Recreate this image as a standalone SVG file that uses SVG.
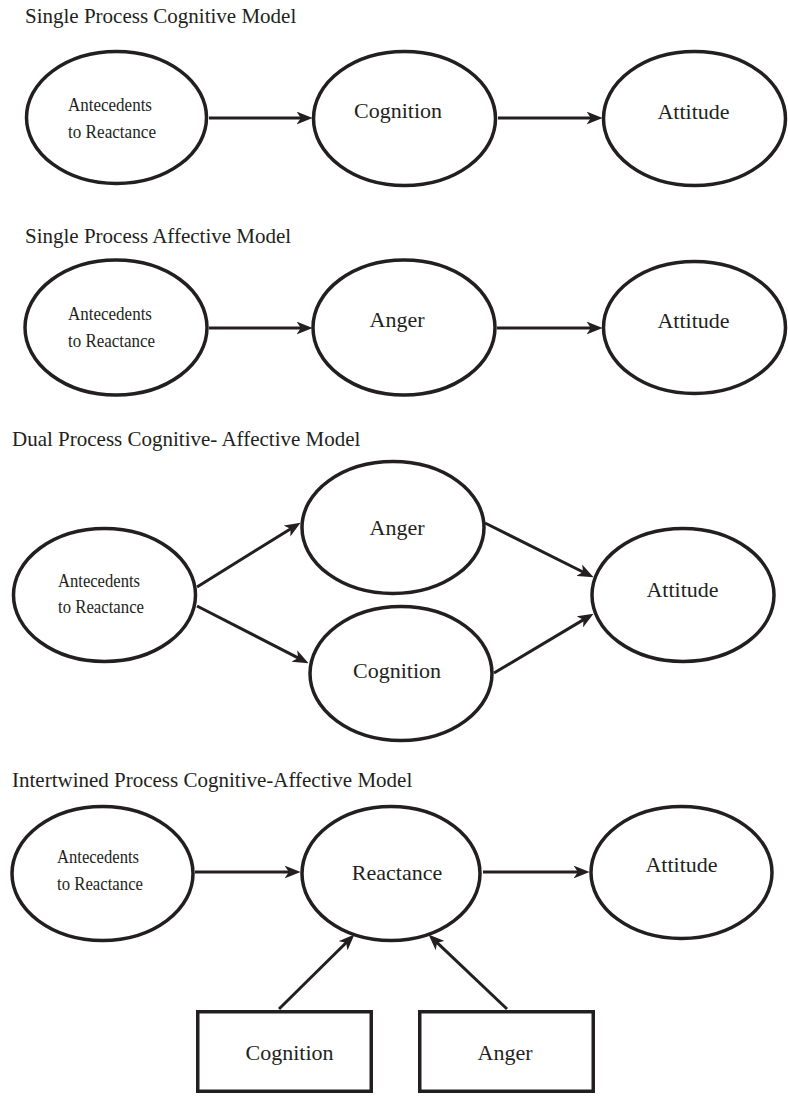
<svg xmlns="http://www.w3.org/2000/svg" width="788" height="1099" viewBox="0 0 788 1099">
<style>
.t{font-family:"Liberation Serif","Times New Roman",serif;fill:#231f20}
.title{font-size:21px}
.lbl{font-size:22px;text-anchor:middle}
.sm{font-size:19.5px}
.n{fill:#fff;stroke:#231f20;stroke-width:3.5}
.c{stroke:#231f20;stroke-width:3;fill:none;marker-end:url(#ah)}
</style>
<defs>
<marker id="ah" markerUnits="userSpaceOnUse" markerWidth="16" markerHeight="13" refX="6" refY="6" orient="auto" viewBox="0 0 15 12">
<path d="M0,0 L15,6 L0,12 L4,6 z" fill="#231f20"/>
</marker>
</defs>
<rect width="788" height="1099" fill="#fff"/>

<text class="t title" x="25" y="23">Single Process Cognitive Model</text>
<text class="t title" x="25" y="243">Single Process Affective Model</text>
<text class="t title" x="12" y="446">Dual Process Cognitive- Affective Model</text>
<text class="t title" x="12" y="787">Intertwined Process Cognitive-Affective Model</text>

<g id="connectors">
<line class="c" x1="209" y1="118" x2="303" y2="118"/>
<line class="c" x1="498" y1="118" x2="593" y2="118"/>
<line class="c" x1="209" y1="328" x2="303" y2="328"/>
<line class="c" x1="497" y1="328" x2="593" y2="328"/>
<line class="c" x1="197" y1="587" x2="292.4" y2="527.7"/>
<line class="c" x1="197" y1="606" x2="300" y2="658.9"/>
<line class="c" x1="485" y1="523" x2="585" y2="573"/>
<line class="c" x1="494" y1="673" x2="585.3" y2="618.6"/>
<line class="c" x1="195" y1="872" x2="291" y2="872"/>
<line class="c" x1="483" y1="872" x2="580" y2="872"/>
<line class="c" x1="279" y1="1009" x2="347.6" y2="941.3"/>
<line class="c" x1="507" y1="1009" x2="435.5" y2="941.2"/>
</g>

<g id="s1-antecedents">
<ellipse class="n" cx="116.5" cy="117.5" rx="90" ry="66"/>
<text class="t sm" x="68" y="111" textLength="84" lengthAdjust="spacingAndGlyphs">Antecedents</text>
<text class="t sm" x="68" y="138" textLength="88" lengthAdjust="spacingAndGlyphs">to Reactance</text>
</g>
<g id="s1-cognition">
<ellipse class="n" cx="404.5" cy="118.5" rx="91" ry="67"/>
<text class="t lbl" x="398" y="118">Cognition</text>
</g>
<g id="s1-attitude">
<ellipse class="n" cx="694.5" cy="118.5" rx="91" ry="67"/>
<text class="t lbl" x="693.5" y="119">Attitude</text>
</g>

<g id="s2-antecedents">
<ellipse class="n" cx="116" cy="327.5" rx="91" ry="67.5"/>
<text class="t sm" x="68" y="320" textLength="84" lengthAdjust="spacingAndGlyphs">Antecedents</text>
<text class="t sm" x="68" y="347" textLength="87" lengthAdjust="spacingAndGlyphs">to Reactance</text>
</g>
<g id="s2-anger">
<ellipse class="n" cx="404" cy="327.5" rx="91" ry="67.5"/>
<text class="t lbl" x="397" y="327">Anger</text>
</g>
<g id="s2-attitude">
<ellipse class="n" cx="694.5" cy="327.5" rx="91" ry="66"/>
<text class="t lbl" x="693.5" y="328">Attitude</text>
</g>

<g id="s3-antecedents">
<ellipse class="n" cx="104.5" cy="595" rx="91" ry="66.5"/>
<text class="t sm" x="58" y="587" textLength="82" lengthAdjust="spacingAndGlyphs">Antecedents</text>
<text class="t sm" x="58" y="613" textLength="86" lengthAdjust="spacingAndGlyphs">to Reactance</text>
</g>
<g id="s3-anger">
<ellipse class="n" cx="393" cy="527.5" rx="91" ry="66"/>
<text class="t lbl" x="397" y="535">Anger</text>
</g>
<g id="s3-cognition">
<ellipse class="n" cx="401" cy="673.5" rx="91" ry="67"/>
<text class="t lbl" x="397" y="678">Cognition</text>
</g>
<g id="s3-attitude">
<ellipse class="n" cx="683" cy="595" rx="91" ry="66.5"/>
<text class="t lbl" x="682.5" y="597">Attitude</text>
</g>

<g id="s4-antecedents">
<ellipse class="n" cx="102.5" cy="873.5" rx="90.5" ry="67"/>
<text class="t sm" x="57" y="863" textLength="82" lengthAdjust="spacingAndGlyphs">Antecedents</text>
<text class="t sm" x="57" y="890" textLength="86" lengthAdjust="spacingAndGlyphs">to Reactance</text>
</g>
<g id="s4-reactance">
<ellipse class="n" cx="391" cy="873.5" rx="89" ry="67"/>
<text class="t lbl" x="397" y="880">Reactance</text>
</g>
<g id="s4-attitude">
<ellipse class="n" cx="681.5" cy="872.5" rx="90.5" ry="66"/>
<text class="t lbl" x="681.5" y="872">Attitude</text>
</g>
<g id="s4-cognition">
<rect class="n" x="197.75" y="1011.75" width="173.5" height="79.5"/>
<text class="t lbl" x="289.5" y="1060">Cognition</text>
</g>
<g id="s4-anger">
<rect class="n" x="419.75" y="1011.75" width="173.5" height="79.5"/>
<text class="t lbl" x="505" y="1060">Anger</text>
</g>
</svg>
